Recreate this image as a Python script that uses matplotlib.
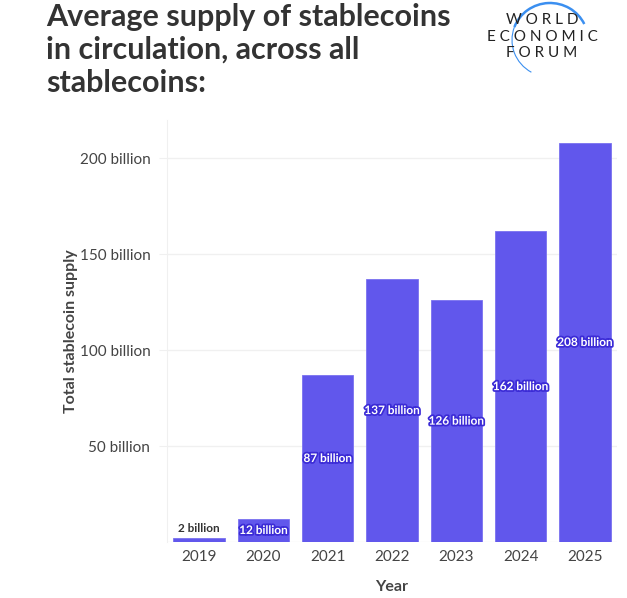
import matplotlib.pyplot as plt
import matplotlib.patheffects as pe
from matplotlib.patches import Arc

years = ["2019", "2020", "2021", "2022", "2023", "2024", "2025"]
supply = [2, 12, 87, 137, 126, 162, 208]  # billions
yticks = [50, 100, 150, 200]

BAR = "#6157ec"
TXT = "#333333"

plt.rcParams['font.family'] = ['Lato', 'DejaVu Sans']

fig = plt.figure(figsize=(6.27, 5.98), dpi=100)
ax = fig.add_axes([167 / 627, 1 - 542 / 598, 450 / 627, 422 / 598])

x = range(len(years))
bars = ax.bar(x, supply, width=0.8, color=BAR, edgecolor="#7a71f0", linewidth=0.6, zorder=2)

for i, v in enumerate(supply):
    label = f"{v} billion"
    if v < 10:
        ax.text(i, v + 2, label, ha="center", va="bottom", fontsize=8.5,
                fontweight="bold", color=TXT)
    else:
        y = max(v / 2, 5.5)
        ax.text(i, y, label, ha="center", va="center", fontsize=8.5,
                fontweight="bold", color="white", zorder=3,
                path_effects=[pe.withStroke(linewidth=2.5, foreground="#3b2bd6")])

ax.set_xlim(-0.5, 6.5)
ax.set_ylim(0, 220)
ax.set_xticks(list(x))
ax.set_xticklabels(years)
ax.set_yticks(yticks)
ax.set_yticklabels([f"{t} billion" for t in yticks])
ax.tick_params(axis="both", labelsize=11, colors="#444444", length=0, pad=6)
ax.tick_params(axis="y", length=6, color="#f0f0f0")
ax.grid(axis="y", color="#f0f0f0", linewidth=1, zorder=0)
for s in ["top", "right", "bottom"]:
    ax.spines[s].set_visible(False)
ax.spines["left"].set_color("#f0f0f0")
ax.axhline(0, color="#f0f0f0", linewidth=1, zorder=1)

ax.set_xlabel("Year", fontsize=11.5, fontweight="bold", color="#444444", labelpad=11)
ax.set_ylabel("Total stablecoin supply", fontsize=11.5, fontweight="bold", color="#444444", labelpad=1)

fig.text(46 / 627, 1 - 3 / 598, "Average supply of stablecoins\nin circulation, across all\nstablecoins:",
         ha="left", va="top", fontsize=22, fontweight="bold", color=TXT, linespacing=1.22)

# logo
for txt, yy in [("W O R L D", 20), ("E C O N O M I C", 37), ("F O R U M", 53)]:
    fig.text(542 / 627, 1 - yy / 598, txt, ha="center", va="center", fontsize=11,
             color="#222222", family=["Lato", "DejaVu Sans"])
logo_ax = fig.add_axes([0, 0, 1, 1])
logo_ax.set_xlim(0, 627)
logo_ax.set_ylim(598, 0)
logo_ax.axis("off")
logo_ax.add_patch(Arc((550, 40), 76, 74, theta1=120, theta2=200, color="#3b8ff0", linewidth=0.8))
logo_ax.add_patch(Arc((550, 40), 76, 74, theta1=200, theta2=335, color="#3b8ff0", linewidth=1.8))

fig.savefig("out.png", dpi=100)
